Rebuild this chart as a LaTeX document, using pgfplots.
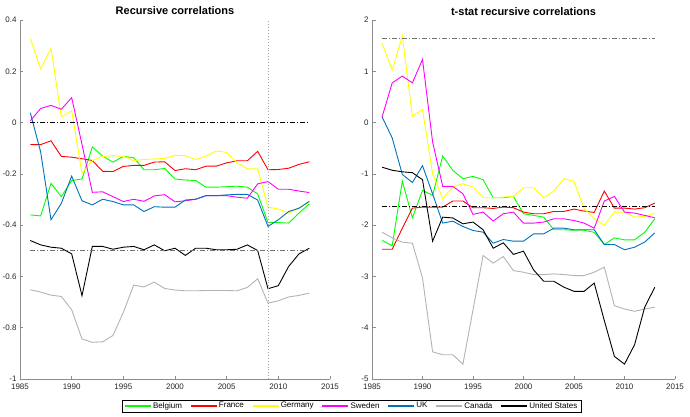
\documentclass[border=0pt]{standalone}
\usepackage{pgfplots}
\pgfplotsset{compat=1.18}
\usepackage{pgfplotstable}
\usepackage{fontspec}
\setmainfont{Liberation Sans}

\definecolor{cBel}{RGB}{0,255,0}
\definecolor{cFra}{RGB}{255,0,0}
\definecolor{cGer}{RGB}{255,255,0}
\definecolor{cSwe}{RGB}{255,0,255}
\definecolor{cUK}{RGB}{0,114,189}
\definecolor{cCan}{RGB}{179,179,179}
\definecolor{cUS}{RGB}{0,0,0}
\definecolor{axgray}{RGB}{140,140,140}
\definecolor{txt}{RGB}{38,38,38}

\pgfplotstableread{
year Bel Fra Ger Swe UK Can US
1986 -0.360 -0.086 0.327 0.007 0.038 -0.652 -0.460
1987 -0.364 -0.086 0.209 0.055 -0.115 -0.661 -0.477
1988 -0.237 -0.071 0.290 0.067 -0.379 -0.673 -0.486
1989 -0.289 -0.132 0.022 0.052 -0.315 -0.678 -0.490
1990 -0.226 -0.135 0.046 0.097 -0.209 -0.730 -0.512
1991 -0.220 -0.141 -0.198 -0.085 -0.305 -0.844 -0.675
1992 -0.095 -0.148 -0.148 -0.272 -0.321 -0.857 -0.483
1993 -0.131 -0.190 -0.132 -0.270 -0.299 -0.855 -0.483
1994 -0.154 -0.191 -0.129 -0.289 -0.308 -0.830 -0.494
1995 -0.132 -0.171 -0.132 -0.308 -0.321 -0.740 -0.486
1996 -0.137 -0.167 -0.148 -0.299 -0.321 -0.634 -0.483
1997 -0.184 -0.167 -0.144 -0.307 -0.347 -0.641 -0.496
1998 -0.184 -0.154 -0.142 -0.286 -0.328 -0.622 -0.477
1999 -0.179 -0.153 -0.140 -0.281 -0.330 -0.647 -0.500
2000 -0.220 -0.187 -0.128 -0.309 -0.330 -0.653 -0.490
2001 -0.224 -0.180 -0.129 -0.305 -0.302 -0.656 -0.518
2002 -0.226 -0.184 -0.144 -0.299 -0.299 -0.656 -0.490
2003 -0.252 -0.170 -0.131 -0.285 -0.285 -0.655 -0.490
2004 -0.252 -0.170 -0.111 -0.285 -0.285 -0.655 -0.496
2005 -0.250 -0.157 -0.116 -0.285 -0.282 -0.655 -0.496
2006 -0.248 -0.149 -0.157 -0.291 -0.280 -0.656 -0.494
2007 -0.252 -0.149 -0.180 -0.295 -0.280 -0.643 -0.477
2008 -0.278 -0.112 -0.180 -0.239 -0.302 -0.609 -0.499
2009 -0.390 -0.184 -0.330 -0.230 -0.405 -0.704 -0.648
2010 -0.390 -0.183 -0.337 -0.260 -0.379 -0.695 -0.636
2011 -0.392 -0.178 -0.353 -0.260 -0.347 -0.680 -0.561
2012 -0.353 -0.163 -0.333 -0.267 -0.334 -0.674 -0.512
2013 -0.317 -0.153 -0.312 -0.273 -0.307 -0.665 -0.490
}\corr

\pgfplotstableread{
year Bel Fra Ger Swe UK Can US
1986 -2.300 -2.470 1.544 0.110 0.110 -2.137 -0.870
1987 -2.400 -2.470 1.023 0.775 -0.300 -2.248 -0.930
1988 -1.140 -2.060 1.687 0.905 -1.010 -2.332 -0.960
1989 -1.857 -1.668 0.124 0.775 -1.170 -2.352 -0.977
1990 -1.322 -1.648 0.254 1.231 -0.840 -3.030 -1.114
1991 -1.420 -1.648 -0.997 -0.378 -1.390 -4.470 -2.313
1992 -0.651 -1.648 -1.485 -1.244 -1.960 -4.527 -1.844
1993 -0.932 -1.530 -1.257 -1.244 -1.922 -4.527 -1.860
1994 -1.094 -1.530 -1.192 -1.388 -2.026 -4.710 -1.974
1995 -1.049 -1.660 -1.257 -1.790 -2.104 -3.650 -1.940
1996 -1.114 -1.660 -1.466 -1.746 -2.137 -2.590 -2.090
1997 -1.466 -1.674 -1.466 -1.920 -2.352 -2.740 -2.450
1998 -1.466 -1.648 -1.453 -1.778 -2.280 -2.612 -2.345
1999 -1.440 -1.660 -1.440 -1.746 -2.313 -2.886 -2.570
2000 -1.778 -1.746 -1.270 -1.960 -2.313 -2.918 -2.508
2001 -1.810 -1.778 -1.270 -1.960 -2.170 -2.964 -2.873
2002 -1.844 -1.778 -1.466 -1.940 -2.170 -2.964 -3.094
2003 -2.090 -1.733 -1.336 -1.876 -2.059 -2.950 -3.094
2004 -2.090 -1.733 -1.094 -1.876 -2.059 -2.964 -3.210
2005 -2.100 -1.687 -1.147 -1.909 -2.090 -2.983 -3.290
2006 -2.100 -1.726 -1.680 -1.960 -2.090 -2.983 -3.290
2007 -2.140 -1.752 -1.876 -2.060 -2.090 -2.918 -3.130
2008 -2.378 -1.336 -2.000 -1.530 -2.378 -2.820 -3.860
2009 -2.248 -1.668 -1.746 -1.440 -2.378 -3.570 -4.560
2010 -2.287 -1.668 -1.746 -1.746 -2.480 -3.635 -4.710
2011 -2.287 -1.687 -1.844 -1.765 -2.430 -3.680 -4.330
2012 -2.140 -1.660 -1.830 -1.810 -2.330 -3.635 -3.600
2013 -1.876 -1.570 -1.765 -1.857 -2.150 -3.600 -3.210
}\tstat

\pgfplotsset{
  myaxis/.style={
    scale only axis,
    anchor=south west,
    height=359pt,
    xmin=1985, xmax=2015,
    xtick={1985,1990,...,2015},
    axis lines*=left,
    axis line style={draw=axgray, line width=0.8pt},
    tick style={draw=axgray, line width=0.6pt},
    tick align=inside,
    major tick length=3.5pt,
    tick label style={font=\fontsize{8}{9.6}\selectfont, text=txt},
    /pgf/number format/assume math mode=true,
    /pgf/number format/1000 sep={},
    xticklabel style={yshift=-1pt},
    title style={font=\bfseries\fontsize{11}{13}\selectfont, at={(0.5,1)}, anchor=base, yshift=-1pt, inner sep=0pt},
    every axis plot/.append style={line width=0.9pt},
    clip=false,
  },
  dd/.style={dash pattern=on 5pt off 2pt on 1pt off 2pt, line width=0.9pt},
  limg/.style={legend image code/.code={\draw[draw=#1, line width=1.4pt] (0pt,0pt) -- (26pt,0pt);}},
}

\begin{document}
\begin{tikzpicture}
\path[use as bounding box] (0,0) rectangle (690pt,416pt);

\begin{axis}[myaxis,
  at={(20pt,37pt)}, width=310pt,
  ymin=-1, ymax=0.4,
  ytick={-1,-0.8,-0.6,-0.4,-0.2,0,0.2,0.4},
  yticklabels={-1,-0.8,-0.6,-0.4,-0.2,0,0.2,0.4},
  title={Recursive correlations},
  legend columns=7,
  legend style={at={(1.0695,-0.075)}, anchor=center,
    font=\fontsize{8}{9.6}\selectfont, inner ysep=1pt, inner xsep=2pt,
    /tikz/every even column/.append style={column sep=6.5pt},
    nodes={inner sep=1.5pt}},
]
\addplot[color=cBel, forget plot] table[x=year,y=Bel]{\corr};
\addplot[color=cFra, forget plot] table[x=year,y=Fra]{\corr};
\addplot[color=cGer, forget plot] table[x=year,y=Ger]{\corr};
\addplot[color=cSwe, forget plot] table[x=year,y=Swe]{\corr};
\addplot[color=cUK, forget plot] table[x=year,y=UK]{\corr};
\addplot[color=cCan, forget plot] table[x=year,y=Can]{\corr};
\addplot[color=cUS, forget plot] table[x=year,y=US]{\corr};
\addplot[black, dd, forget plot] coordinates {(1986,0) (2013,0)};
\addplot[black!55, dd, forget plot] coordinates {(1986,-0.5) (2013,-0.5)};
\addplot[black!35, dotted, line width=0.6pt, forget plot] coordinates {(2009,-1) (2009,0.4)};
\addlegendimage{limg=cBel}\addlegendentry{Belgium}
\addlegendimage{limg=cFra}\addlegendentry{France}
\addlegendimage{limg=cGer}\addlegendentry{Germany}
\addlegendimage{limg=cSwe}\addlegendentry{Sweden}
\addlegendimage{limg=cUK}\addlegendentry{UK}
\addlegendimage{limg=cCan}\addlegendentry{Canada}
\addlegendimage{limg=cUS}\addlegendentry{United States}
\end{axis}

\begin{axis}[myaxis,
  at={(372pt,37pt)}, width=303pt,
  ymin=-5, ymax=2,
  ytick={-5,-4,-3,-2,-1,0,1,2},
  yticklabels={-5,-4,-3,-2,-1,0,1,2},
  title={t-stat recursive correlations},
]
\addplot[color=cBel] table[x=year,y=Bel]{\tstat};
\addplot[color=cFra] table[x=year,y=Fra]{\tstat};
\addplot[color=cGer] table[x=year,y=Ger]{\tstat};
\addplot[color=cSwe] table[x=year,y=Swe]{\tstat};
\addplot[color=cUK] table[x=year,y=UK]{\tstat};
\addplot[color=cCan] table[x=year,y=Can]{\tstat};
\addplot[color=cUS] table[x=year,y=US]{\tstat};
\addplot[black!55, dd] coordinates {(1986,1.645) (2013,1.645)};
\addplot[black, dd] coordinates {(1986,-1.645) (2013,-1.645)};
\end{axis}
\end{tikzpicture}
\end{document}
